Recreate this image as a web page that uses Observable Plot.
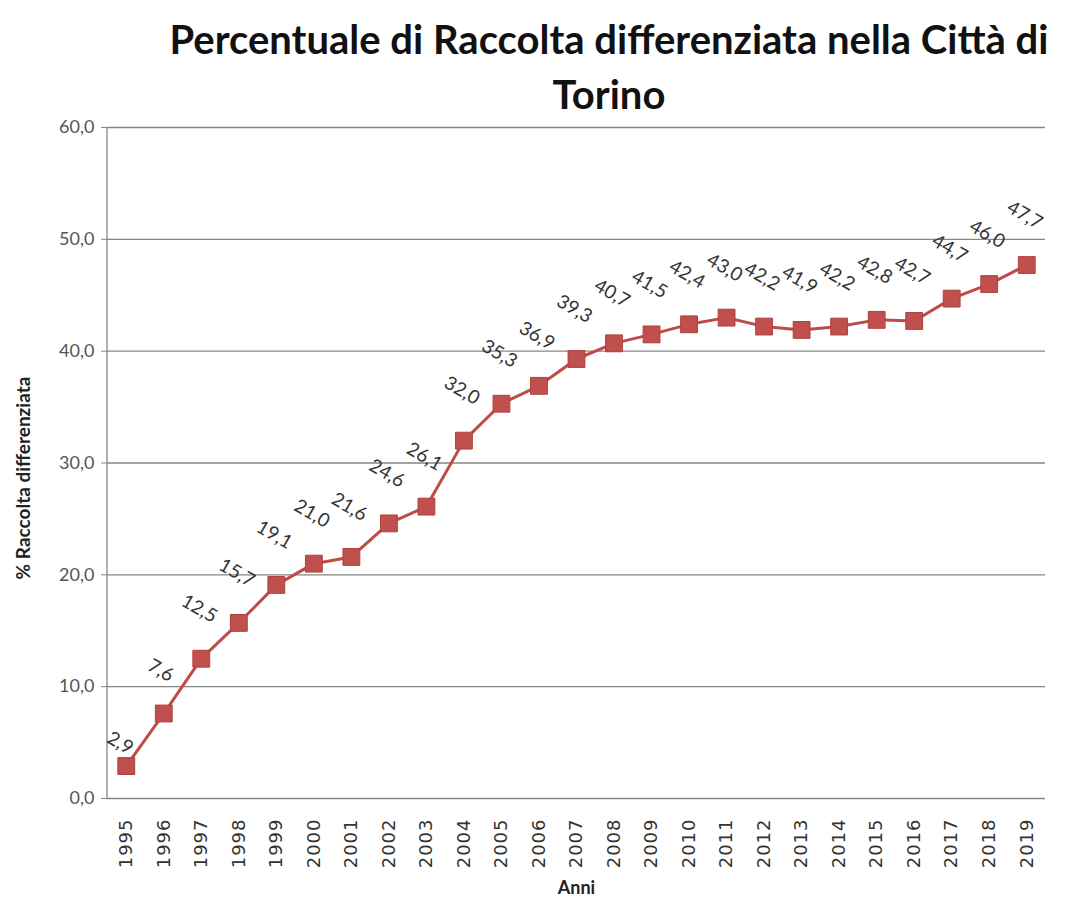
<!DOCTYPE html>
<html>
<head>
<meta charset="utf-8">
<script src="https://cdn.jsdelivr.net/npm/d3@7"></script>
<script src="https://cdn.jsdelivr.net/npm/@observablehq/plot@0.6"></script>
<style>
  html, body { margin: 0; padding: 0; background: #fff; }
  #title {
    height: 104px; overflow: visible; box-sizing: border-box;
    margin-left: 150px; width: 918px; padding-top: 12px;
    text-align: center; font-family: "Lato", sans-serif;
    font-weight: bold; font-size: 40px; line-height: 55px; color: #111;
    position: relative; z-index: 2;
  }
  #chart svg { background: transparent; }
  #chart g[aria-label="x-axis tick label"] text { letter-spacing: 1px; }
</style>
</head>
<body>
<div id="title">Percentuale di Raccolta differenziata nella Città di<br>Torino</div>
<div id="chart"></div>
<script>
const years = [1995,1996,1997,1998,1999,2000,2001,2002,2003,2004,2005,2006,2007,2008,2009,2010,2011,2012,2013,2014,2015,2016,2017,2018,2019];
const values = [2.9,7.6,12.5,15.7,19.1,21.0,21.6,24.6,26.1,32.0,35.3,36.9,39.3,40.7,41.5,42.4,43.0,42.2,41.9,42.2,42.8,42.7,44.7,46.0,47.7];
const yTicks = [0,10,20,30,40,50,60];
const yTitle = "% Raccolta differenziata";
const xTitle = "Anni";

const data = years.map((y, i) => ({year: y, value: values[i], i}));
const fmt = d => d.toFixed(1).replace(".", ",");

const leftLine = (index, scales, values, dims) => {
  const g = d3.create("svg:line")
    .attr("x1", dims.marginLeft).attr("x2", dims.marginLeft)
    .attr("y1", scales.y(60)).attr("y2", scales.y(0))
    .attr("stroke", "#868686").attr("stroke-width", 1.3);
  return g.node();
};

const chart = Plot.plot({
  width: 1068,
  height: 802,
  marginTop: 23,
  marginBottom: 108,
  marginLeft: 107,
  marginRight: 23,
  style: {fontFamily: "Lato, sans-serif", background: "transparent", overflow: "visible"},
  x: {type: "point", domain: years, padding: 0.5, round: false},
  y: {domain: [0, 60]},
  marks: [
    Plot.gridY(yTicks, {stroke: "#868686", strokeOpacity: 1, strokeWidth: 1.3}),
    leftLine,
    Plot.axisY(yTicks, {tickFormat: fmt, tickSize: 6, tickPadding: 7, fontSize: 18, fill: "#555", stroke: "#868686", label: null}),
    Plot.axisX(years, {tickFormat: d => String(d), tickRotate: -90, tickSize: 0, tickPadding: 20, fontSize: 18, fill: "#333", label: null, fontFamily: "DejaVu Sans"}),
    Plot.text([yTitle], {frameAnchor: "left", textAnchor: "middle", dx: -84, dy: 15, rotate: -90, fontSize: 19, fontWeight: "bold", fill: "#222"}),
    Plot.text([xTitle], {frameAnchor: "bottom", dy: 95, fontSize: 18, fontWeight: "bold", fill: "#222"}),
    Plot.line(data, {x: "year", y: "value", stroke: "#BE4B48", strokeWidth: 3}),
    Plot.dot(data, {x: "year", y: "value", symbol: "square", r: 9.5, fill: "#C0504D", stroke: "#B0403D", strokeWidth: 1}),
    Plot.text(data, {filter: d => d.i === 0, x: "year", y: "value", text: d => fmt(d.value), rotate: 30, dx: -6, dy: -23, fontSize: 19, fill: "#333"}),
    Plot.text(data, {filter: d => d.i === 1, x: "year", y: "value", text: d => fmt(d.value), rotate: 30, dx: -3, dy: -43, fontSize: 19, fill: "#333"}),
    Plot.text(data, {filter: d => d.i > 1, x: "year", y: "value", text: d => fmt(d.value), rotate: 30, dx: -2, dy: -50, fontSize: 19, fill: "#333"})
  ]
});
document.getElementById("chart").appendChild(chart);
</script>
</body>
</html>
